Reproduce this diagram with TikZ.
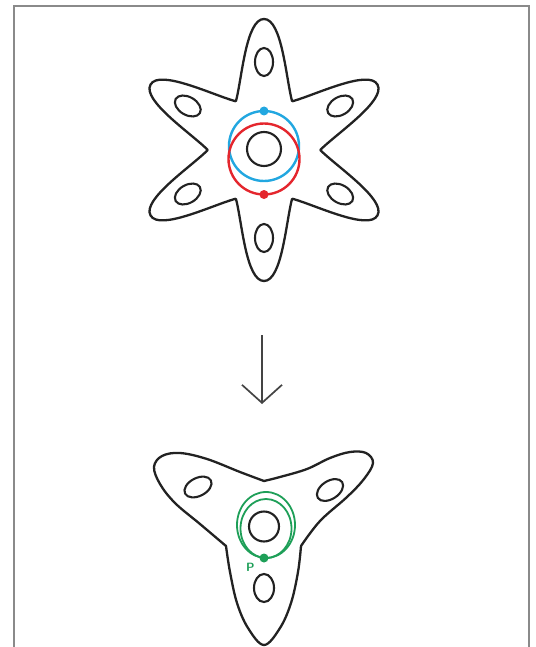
\documentclass[tikz,border=0pt]{standalone}
\usepackage{tikz}
\usepackage{xcolor}
\usetikzlibrary{arrows.meta, positioning}
\definecolor{outline}{HTML}{222222}
\definecolor{loopblue}{HTML}{22A7E0}
\definecolor{loopred}{HTML}{E4262D}
\definecolor{loopgreen}{HTML}{1E9F58}
\definecolor{framegray}{HTML}{8A8A8A}
\definecolor{arrowgray}{HTML}{444444}

\begin{document}
\begin{tikzpicture}[x=1pt, y=-1pt,
    surf/.style={draw=outline, line width=2.3pt, line join=round, line cap=round},
    hole/.style={draw=outline, line width=2.1pt},
    loopline/.style={line width=2.4pt},
    basept/.style={circle, inner sep=0pt, minimum size=9pt}]
    \useasboundingbox (0,0) rectangle (535,647);
    \draw[framegray, line width=1.5pt] (14,647) -- (14,6) -- (529,6) -- (529,647);

    % upper surface: six petals, each with a hole
    \begin{scope}[shift={(264,150)}]
        \foreach \a in {30,90,...,330} {
            \draw[surf, rotate=\a] (49,28) .. controls (72,22) and (131,18) .. (131,0)
                .. controls (131,-18) and (72,-22) .. (49,-28);
            \draw[hole, rotate=\a] (88,0) ellipse [x radius=14, y radius=9];
        }
        \draw[hole] (0,-1) circle [radius=17];
        \draw[loopblue, loopline] (0,-4) circle [radius=35];
        \draw[loopred, loopline] (0,9) circle [radius=35.5];
        \node[basept, fill=loopblue] (bluept) at (0,-39) {};
        \node[basept, fill=loopred] (redpt) at (0,44.5) {};
    \end{scope}

    % covering map
    \coordinate (maptop) at (262,335);
    \coordinate (maptip) at (262,404);
    \draw[arrowgray, line width=1.7pt, -{Straight Barb[length=18pt, width=40pt]}] (maptop) -- (maptip);

    % lower surface: three lobes
    \draw[surf] plot[smooth, tension=0.6] coordinates {(264,481) (240,472) (207,459) (180,453)
        (162,456) (154,467) (160,484) (175,503) (200,524) (226,546)};
    \draw[surf] plot[smooth, tension=0.6] coordinates {(226,546) (230,572) (237,603) (248,628)
        (264,645) (280,628) (291,603) (298,572) (301,546)};
    \draw[surf] plot[smooth, tension=0.6] coordinates {(301,546) (320,521) (347,497) (364,479)
        (373,463) (366,453) (350,452) (330,458) (307,469) (280,477) (264,481)};
    \draw[hole, rotate around={27:(198,487)}] (198,487) ellipse [x radius=14.5, y radius=9];
    \draw[hole, rotate around={33:(330,490)}] (330,490) ellipse [x radius=14.5, y radius=9];
    \draw[hole] (264,588) ellipse [x radius=10, y radius=14];
    \draw[hole] (264,526.5) circle [radius=15];

    \draw[loopgreen, line width=1.8pt] (266,525) ellipse [x radius=29, y radius=33];
    \draw[loopgreen, line width=1.8pt] (266,528.5) ellipse [x radius=25.5, y radius=29.5];
    \node[basept, fill=loopgreen] (ppt) at (264,558) {};
    \node[text=loopgreen, inner sep=0pt, font=\sffamily\bfseries\fontsize{12}{12}\selectfont,
        below left=2pt and 6pt of ppt] (plabel) {P};
\end{tikzpicture}
\end{document}
